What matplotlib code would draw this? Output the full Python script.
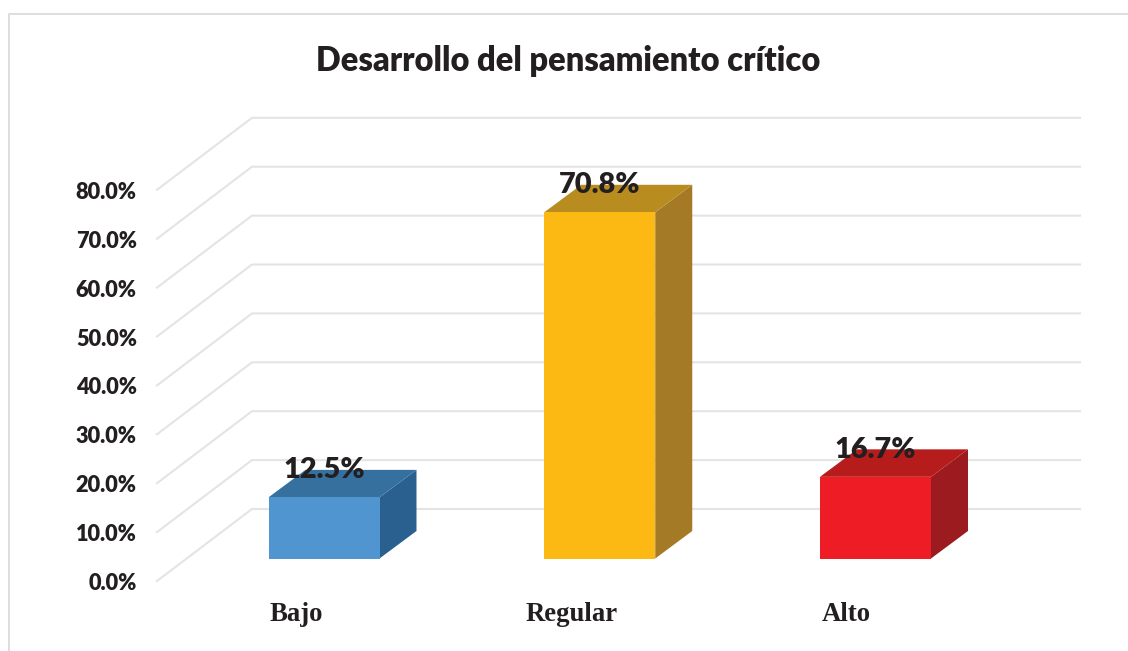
import matplotlib
matplotlib.use("Agg")
import matplotlib.pyplot as plt
from matplotlib.patches import Polygon, Rectangle
from matplotlib.lines import Line2D
from matplotlib.transforms import ScaledTranslation

title = "Desarrollo del pensamiento crítico"
categories = ["Bajo", "Regular", "Alto"]
values = [12.5, 70.8, 16.7]
y_ticks = [0, 10, 20, 30, 40, 50, 60, 70, 80]
front_colors = ["#5094D0", "#FDB913", "#EE1C25"]
top_colors = ["#35709F", "#B98C1F", "#B71C1C"]
side_colors = ["#2A6090", "#A57A27", "#9B1B1E"]
label_shift = [-0.10, -0.103, -0.107]

W, H = 1128, 651
PX_X = 275.75          # pixels per category
PX_Y = 4.89            # pixels per percentage point
L, R, B, T = 157, 1080, 581, 118

fig = plt.figure(figsize=(W / 100, H / 100), dpi=100, facecolor="white")
ax = fig.add_axes([L / W, (H - B) / H, (R - L) / W, (B - T) / H])
ax.set_xlim((L - 324) / PX_X, (R - 324) / PX_X)
ax.set_ylim(0, (B - T) / PX_Y)
ax.patch.set_alpha(0)
for s in ax.spines.values():
    s.set_visible(False)

# Chart frame
fig.add_artist(Line2D([9 / W, 9 / W, 1], [0, 1 - 14 / H, 1 - 14 / H],
                      transform=fig.transFigure, color="#DEDEDE", lw=1.4))

# Walls / gridlines
wall_dx, wall_dy = 95 / PX_X, 72 / PX_Y
x0, x1 = ax.get_xlim()
for v in y_ticks:
    ax.plot([x0, x0 + wall_dx, x1], [v, v + wall_dy, v + wall_dy],
            color="#E4E4E4", lw=1.5, clip_on=False, zorder=1,
            solid_joinstyle="round")

# Bars with depth
bar_w = 111 / PX_X
floor = 22.5 / PX_Y
d_x, d_y = 37 / PX_X, 27.5 / PX_Y
for i, v in enumerate(values):
    xl, xr = i - bar_w / 2, i + bar_w / 2
    yb, yt = floor, floor + v
    ax.add_patch(Polygon([(xr, yb), (xr + d_x, yb + d_y), (xr + d_x, yt + d_y), (xr, yt)],
                         closed=True, fc=side_colors[i], ec="none", zorder=3))
    ax.add_patch(Polygon([(xl, yt), (xr, yt), (xr + d_x, yt + d_y), (xl + d_x, yt + d_y)],
                         closed=True, fc=top_colors[i], ec="none", zorder=3))
    ax.add_patch(Rectangle((xl, yb), bar_w, v, fc=front_colors[i], ec="none", zorder=4))
    ax.annotate(f"{v:.1f}%", (i, yt), xytext=(0, 19.5), textcoords="offset points",
                ha="center", va="center", family="Lato", weight="heavy",
                fontsize=20.8, color="#231F20", zorder=6)

# Axes labels
ax.set_yticks(y_ticks)
ax.set_yticklabels([f"{t:.1f}%" for t in y_ticks], family="Lato", weight="heavy",
                   fontsize=15.7, color="#231F20", va="center")
ax.tick_params(axis="y", length=0, pad=14.5)
tick_offset = ScaledTranslation(0, -2.5 / 100, fig.dpi_scale_trans)
for lab in ax.get_yticklabels():
    lab.set_transform(lab.get_transform() + tick_offset)
ax.set_xticks([i + s for i, s in enumerate(label_shift)])
ax.set_xticklabels(categories, family="Liberation Serif", weight="bold",
                   fontsize=19.3, color="#231F20")
ax.tick_params(axis="x", length=0, pad=15)

fig.text(568 / W, 1 - 61 / H, title, ha="center", va="center", family="Lato",
         weight="heavy", fontsize=23.5, color="#231F20")

fig.savefig("out.png", dpi=100, facecolor="white")
